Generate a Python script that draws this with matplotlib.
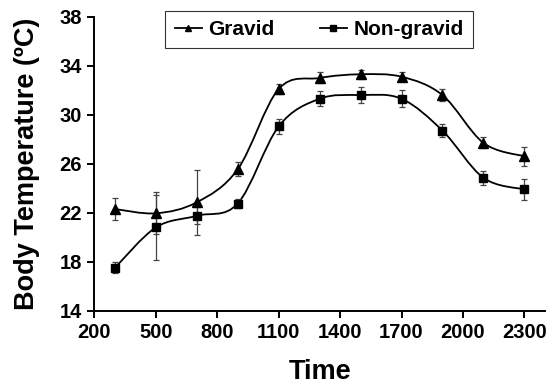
import matplotlib
matplotlib.use("Agg")
import matplotlib.pyplot as plt
from matplotlib.path import Path
from matplotlib.patches import PathPatch
from matplotlib.lines import Line2D

plt.rcParams["font.family"] = ["Liberation Sans", "DejaVu Sans"]
plt.rcParams["font.weight"] = "bold"

# data
time = [300, 500, 700, 900, 1100, 1300, 1500, 1700, 1900, 2100, 2300]
gravid = [22.3, 21.95, 22.85, 25.55, 32.1, 33.0, 33.3, 33.1, 31.6, 27.7, 26.6]
gravid_err = [0.9, 1.7, 2.65, 0.55, 0.4, 0.45, 0.37, 0.37, 0.48, 0.45, 0.75]
nongravid = [17.5, 20.8, 21.75, 22.75, 29.05, 31.3, 31.6, 31.3, 28.7, 24.85, 23.9]
nongravid_err = [0.45, 2.65, 0.7, 0.4, 0.6, 0.6, 0.65, 0.68, 0.54, 0.58, 0.83]
xticks = [200, 500, 800, 1100, 1400, 1700, 2000, 2300]
yticks = [14, 18, 22, 26, 30, 34, 38]


def smooth_path(xs, ys):
    # Excel-style smoothed line: cubic Bezier through every point
    pts = list(zip(xs, ys))
    verts, codes = [pts[0]], [Path.MOVETO]
    n = len(pts)
    for i in range(n - 1):
        p0 = pts[max(i - 1, 0)]
        p1, p2 = pts[i], pts[i + 1]
        p3 = pts[min(i + 2, n - 1)]
        c1 = (p1[0] + (p2[0] - p0[0]) / 6, p1[1] + (p2[1] - p0[1]) / 6)
        c2 = (p2[0] - (p3[0] - p1[0]) / 6, p2[1] - (p3[1] - p1[1]) / 6)
        verts += [c1, c2, p2]
        codes += [Path.CURVE4] * 3
    return Path(verts, codes)


fig = plt.figure(figsize=(5.48, 3.87), dpi=100)
ax = fig.add_axes([0.1724, 0.1972, 0.8218, 0.7596])

for ys, err, mk, ms in [(gravid, gravid_err, "^", 7), (nongravid, nongravid_err, "s", 6)]:
    ax.add_patch(PathPatch(smooth_path(time, ys), facecolor="none",
                           edgecolor="black", lw=1.3, zorder=2))
    ax.errorbar(time, ys, yerr=err, fmt="none", ecolor="#444444",
                elinewidth=0.9, capsize=2.5, capthick=0.9, zorder=3)
    ax.plot(time, ys, ls="none", marker=mk, ms=ms, color="black", zorder=4)

ax.set_xlim(200, 2400)
ax.set_ylim(14, 38)
ax.set_xticks(xticks)
ax.set_yticks(yticks)
ax.tick_params(direction="out", length=5, width=1.4, labelsize=14.5, pad=4)
for lab in ax.get_xticklabels() + ax.get_yticklabels():
    lab.set_fontweight("bold")
for s in ["top", "right"]:
    ax.spines[s].set_visible(False)
for s in ["left", "bottom"]:
    ax.spines[s].set_linewidth(1.4)

ax.set_xlabel("Time", fontsize=19.5, fontweight="bold", labelpad=12)
ax.set_ylabel("Body Temperature (ºC)", fontsize=19.5, fontweight="bold", labelpad=14)

handles = [Line2D([], [], color="black", lw=1.3, marker="^", ms=4.5),
           Line2D([], [], color="black", lw=1.3, marker="s", ms=4)]
leg = fig.legend(handles, ["Gravid", "Non-gravid"], loc="center",
                 bbox_to_anchor=(319 / 548, 1 - 29.5 / 387), ncol=2,
                 fontsize=15, frameon=True, fancybox=False, handlelength=1.3,
                 handletextpad=0.3, columnspacing=2.2, borderpad=0.45)
leg.get_frame().set_edgecolor("black")
leg.get_frame().set_linewidth(0.8)
for t in leg.get_texts():
    t.set_fontweight("bold")

fig.savefig("out.png", dpi=100)
